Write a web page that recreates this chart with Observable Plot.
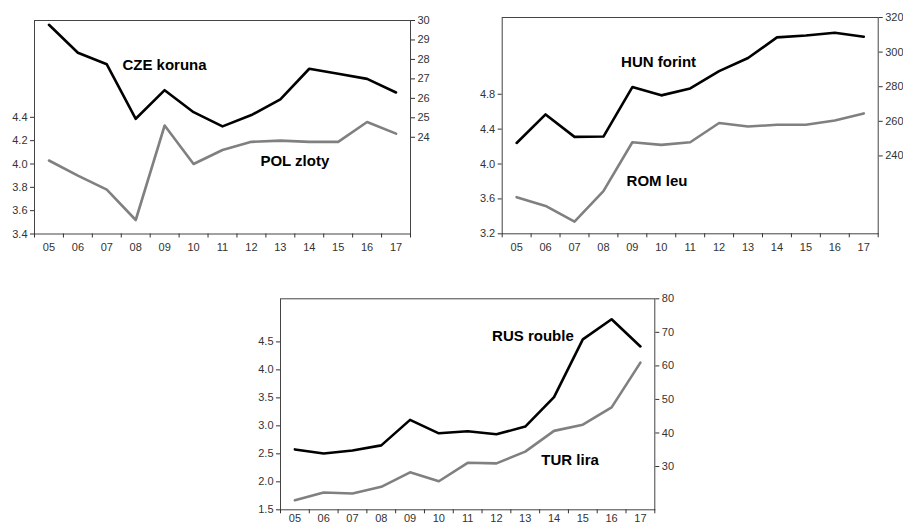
<!DOCTYPE html>
<html>
<head>
<meta charset="utf-8">
<script src="https://cdn.jsdelivr.net/npm/d3@7"></script>
<script src="https://cdn.jsdelivr.net/npm/@observablehq/plot@0.6"></script>
<style>
  html, body { margin: 0; padding: 0; background: #fff; }
  #wrap { position: relative; width: 903px; height: 524px; overflow: hidden; background: #fff; }
  #wrap svg { position: absolute; }
</style>
</head>
<body>
<div id="wrap"></div>
<script>
// Annual average exchange rates against the euro, 2005–2017
const years = [2005, 2006, 2007, 2008, 2009, 2010, 2011, 2012, 2013, 2014, 2015, 2016, 2017];

const czeKoruna = [29.78, 28.34, 27.75, 24.95, 26.42, 25.29, 24.56, 25.14, 25.95, 27.52, 27.26, 27.00, 26.30];
const polZloty  = [4.03, 3.90, 3.78, 3.52, 4.33, 4.00, 4.12, 4.19, 4.20, 4.19, 4.19, 4.36, 4.26];
const hunForint = [247.5, 264.0, 251.0, 251.2, 279.8, 275.0, 279.0, 289.0, 296.6, 308.5, 309.6, 311.2, 308.9];
const romLeu    = [3.62, 3.52, 3.34, 3.69, 4.25, 4.22, 4.25, 4.47, 4.43, 4.45, 4.45, 4.50, 4.58];
const rusRouble = [35.1, 33.9, 34.8, 36.3, 43.9, 39.9, 40.5, 39.6, 41.9, 50.7, 67.9, 73.9, 65.8];
const turLira   = [1.67, 1.81, 1.79, 1.91, 2.17, 2.01, 2.34, 2.33, 2.54, 2.91, 3.02, 3.33, 4.13];

// Tick values of each axis
const czePolLeftTicks  = [3.4, 3.6, 3.8, 4.0, 4.2, 4.4];
const czePolRightTicks = [24, 25, 26, 27, 28, 29, 30];
const hunRomLeftTicks  = [3.2, 3.6, 4.0, 4.4, 4.8];
const hunRomRightTicks = [240, 260, 280, 300, 320];
const rusTurLeftTicks  = [1.5, 2.0, 2.5, 3.0, 3.5, 4.0, 4.5];
const rusTurRightTicks = [30, 40, 50, 60, 70, 80];

// Series labels with their anchor points (year, value on the series' own axis)
const czeLabel = {text: "CZE koruna", x: 2007.54, y: 27.69};
const polLabel = {text: "POL zloty",  x: 2012.31, y: 4.02};
const hunLabel = {text: "HUN forint", x: 2008.61, y: 294.2};
const romLabel = {text: "ROM leu",    x: 2008.80, y: 3.80};
const rusLabel = {text: "RUS rouble", x: 2011.85, y: 69.0};
const turLabel = {text: "TUR lira",   x: 2013.56, y: 2.38};

const FONT = "'Liberation Sans', Arial, Helvetica, sans-serif";
const xDomain = [years[0] - 0.5, years[years.length - 1] + 0.5];
const yearBounds = years.map(y => y - 0.5).concat([years[years.length - 1] + 0.5]);

const wrap = document.getElementById("wrap");

function label(l) {
  return Plot.text([l], {
    x: "x", y: "y", text: "text",
    textAnchor: "start", fontWeight: "bold", fontSize: 15,
    fill: "#000", fontFamily: FONT
  });
}

function panel(p) {
  const common = {
    width: p.width, height: p.height,
    marginLeft: p.mL, marginTop: p.mT, marginRight: p.mR, marginBottom: p.mB,
    x: {domain: xDomain, axis: null},
    style: {background: "transparent", fontFamily: FONT, fontSize: "11px", color: "#333", overflow: "visible"}
  };

  // Left axis, frame, year axis and the grey series
  const back = Plot.plot({
    ...common,
    y: {domain: p.leftDomain, axis: null},
    marks: [
      Plot.frame({stroke: "#444", strokeWidth: 1}),
      Plot.axisX({ticks: yearBounds, tickSize: 4, tickFormat: () => "", label: null}),
      Plot.axisX({ticks: years, tickSize: 0, tickPadding: p.yearPad, tickFormat: d => String(d).slice(2), label: null}),
      Plot.axisY({ticks: p.leftTicks, anchor: "left", tickSize: 4, tickPadding: 3, tickFormat: p.leftFmt, label: null}),
      Plot.line(p.grey, {x: years, y: d => d, stroke: "#808080", strokeWidth: 2.6}),
      label(p.greyLabel)
    ]
  });

  // Right axis and the black series
  const front = Plot.plot({
    ...common,
    y: {domain: p.rightDomain, axis: null},
    marks: [
      Plot.axisY({ticks: p.rightTicks, anchor: "right", tickSize: 4, tickPadding: 3, tickFormat: d3.format("d"), label: null}),
      Plot.line(p.black, {x: years, y: d => d, stroke: "#000", strokeWidth: 2.6}),
      label(p.blackLabel)
    ]
  });

  for (const svg of [back, front]) {
    svg.style.left = p.left + "px";
    svg.style.top = p.top + "px";
    wrap.appendChild(svg);
  }
}

panel({
  left: 0, top: 0, width: 450, height: 260,
  mL: 34, mT: 20, mR: 40, mB: 26.5, yearPad: 9,
  leftDomain: [3.4, 5.23], rightDomain: [19.03, 30],
  leftTicks: czePolLeftTicks, rightTicks: czePolRightTicks, leftFmt: d3.format(".1f"),
  grey: polZloty, black: czeKoruna, greyLabel: polLabel, blackLabel: czeLabel
});

panel({
  left: 450, top: 0, width: 453, height: 260,
  mL: 51.7, mT: 17, mR: 25.3, mB: 26.7, yearPad: 9,
  leftDomain: [3.2, 5.68], rightDomain: [195, 320],
  leftTicks: hunRomLeftTicks, rightTicks: hunRomRightTicks, leftFmt: d3.format(".1f"),
  grey: romLeu, black: hunForint, greyLabel: romLabel, blackLabel: hunLabel
});

panel({
  left: 220, top: 280, width: 460, height: 244,
  mL: 60, mT: 18.3, mR: 25.7, mB: 14.7, yearPad: 4,
  leftDomain: [1.5, 5.27], rightDomain: [17.1, 80],
  leftTicks: rusTurLeftTicks, rightTicks: rusTurRightTicks, leftFmt: d3.format(".1f"),
  grey: turLira, black: rusRouble, greyLabel: turLabel, blackLabel: rusLabel
});
</script>
</body>
</html>
